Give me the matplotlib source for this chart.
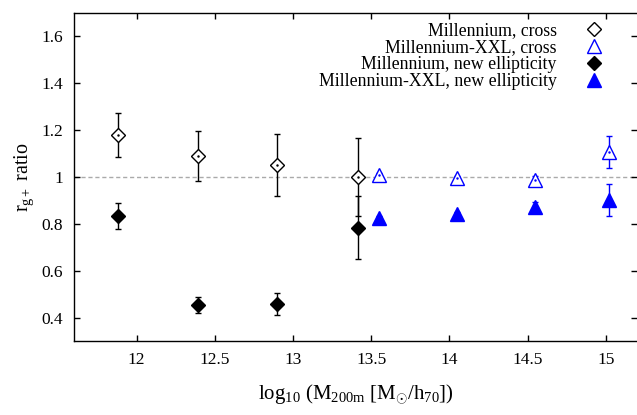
import matplotlib
matplotlib.use("Agg")
import matplotlib.pyplot as plt

plt.rcParams['font.family'] = ['Liberation Serif', 'DejaVu Serif']
plt.rcParams['mathtext.fontset'] = 'custom'
plt.rcParams['mathtext.rm'] = 'Liberation Serif'
plt.rcParams['mathtext.it'] = 'Liberation Serif:italic'

# Millennium (cross and new ellipticity share the mass bins)
mill_x = [11.88, 12.39, 12.90, 13.415]
mill_cross = [1.18, 1.089, 1.05, 1.0]
mill_cross_err = [0.095, 0.107, 0.132, 0.166]
mill_new = [0.834, 0.453, 0.458, 0.783]
mill_new_err = [0.055, 0.035, 0.048, 0.135]

# Millennium-XXL
xxl_x = [13.55, 14.05, 14.55, 15.02]
xxl_cross = [1.008, 0.995, 0.986, 1.106]
xxl_cross_err = [0.008, 0.01, 0.02, 0.068]
xxl_new = [0.827, 0.844, 0.872, 0.902]
xxl_new_err = [0.005, 0.006, 0.02, 0.07]

x_ticks = [12, 12.5, 13, 13.5, 14, 14.5, 15]
x_ticklabels = ['12', '12.5', '13', '13.5', '14', '14.5', '15']
y_ticks = [0.4, 0.6, 0.8, 1.0, 1.2, 1.4, 1.6]
y_ticklabels = ['0.4', '0.6', '0.8', '1', '1.2', '1.4', '1.6']

fig = plt.figure(figsize=(6.37, 4.15), dpi=100)
ax = fig.add_axes([74 / 637, 1 - 341 / 415, 1 - 74 / 637, (341 - 13) / 415])

ax.axhline(1.0, color='#aaaaaa', linestyle=(0, (3, 2)), linewidth=1.0, zorder=1)

eb = dict(fmt='none', capsize=2.5, elinewidth=1.0, capthick=1.0, zorder=2)
ax.errorbar(mill_x, mill_cross, yerr=mill_cross_err, ecolor='black', **eb)
ax.errorbar(mill_x, mill_new, yerr=mill_new_err, ecolor='black', **eb)
ax.errorbar(xxl_x, xxl_cross, yerr=xxl_cross_err, ecolor='blue', **eb)
ax.errorbar(xxl_x, xxl_new, yerr=xxl_new_err, ecolor='blue', **eb)

ax.plot(mill_x, mill_cross, linestyle='none', marker='D', ms=7.5, mfc='white',
        mec='black', mew=1.0, zorder=3, label='Millennium, cross')
ax.plot(xxl_x, xxl_cross, linestyle='none', marker='^', ms=10, mfc='white',
        mec='blue', mew=1.0, zorder=3, label='Millennium-XXL, cross')
ax.plot(mill_x, mill_new, linestyle='none', marker='D', ms=7.5, color='black',
        zorder=3, label='Millennium, new ellipticity')
ax.plot(xxl_x, xxl_new, linestyle='none', marker='^', ms=10, color='blue',
        zorder=3, label='Millennium-XXL, new ellipticity')
# little centre dots of the open symbols
ax.plot(mill_x, mill_cross, linestyle='none', marker='.', ms=1.5, color='black', zorder=4)
ax.plot(xxl_x, xxl_cross, linestyle='none', marker='.', ms=1.5, color='blue', zorder=4)

ax.set_xlim(11.6, 15.2)
ax.set_ylim(0.3, 1.7)
ax.set_xticks(x_ticks)
ax.set_xticklabels(x_ticklabels)
ax.set_yticks(y_ticks)
ax.set_yticklabels(y_ticklabels)
ax.tick_params(direction='in', length=4.5, width=1, top=True, right=True,
               labelsize=12.5, pad=8)
ax.spines['right'].set_visible(False)
for s in ['left', 'bottom', 'top']:
    ax.spines[s].set_linewidth(1.0)

ax.set_xlabel(r'log$_{10}$ (M$_{\mathrm{200m}}$ [M$_{\odot}$/h$_{70}$])', fontsize=15, labelpad=10)
ax.set_ylabel(r'r$_{\mathrm{g+}}$ ratio', fontsize=14.5, labelpad=4)

leg = ax.legend(loc='upper right', bbox_to_anchor=(0.955, 0.995), frameon=False,
                markerfirst=False, fontsize=12.8, handlelength=1.2,
                handletextpad=1.5, labelspacing=0.0, borderaxespad=0.0)
for col in leg._legend_handle_box.get_children():
    col.align = 'right'

fig.savefig('out.png', dpi=100)
